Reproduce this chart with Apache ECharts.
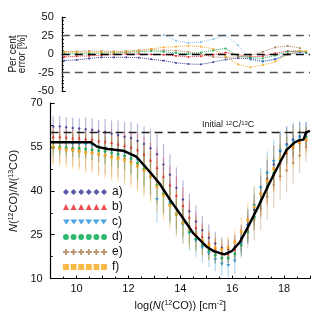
<!DOCTYPE html>
<html><head><meta charset="utf-8">
<script src="https://cdn.jsdelivr.net/npm/echarts@6/dist/echarts.min.js"></script>
<style>html,body{margin:0;padding:0;background:#fff}#c{width:316px;height:316px}</style>
</head><body><div id="c"></div><script>
// ---------- DATA ----------
const xGrid = [9.1,9.35,9.6,9.85,10.1,10.35,10.6,10.85,11.1,11.35,11.6,11.85,12.1,12.35,12.6,12.85,13.1,13.35,13.6,13.85,14.1,14.35,14.6,14.85,15.1,15.35,15.6,15.85,16.1,16.35,16.6,16.85,17.1,17.35,17.6,17.85,18.1,18.35,18.6,18.85];
const ratioA = [62,62,61.7,61.5,61.3,61,60.8,60.3,60,59.5,59,58.5,58,57,56,54.5,52.5,49,45.5,41,37,33,29.5,26.5,24,22,20.5,20,21,24,28.5,33.5,39,44,49,53.5,56,57.5,58.5,59.5];
const ratioB = [58.5,58.5,58.3,58,58,57.8,57.5,57,56.8,56.5,56,55.5,55,54,52.5,50.5,48,45,42,38.5,35,31,27.5,24.5,22,20,18.5,18.5,20,23,27,31.5,36.5,41,45.5,49.5,53,55,56.5,57.5];
const ratioC = [56.5,56.5,56.3,56,56,55.8,55.5,55,54.5,54,53.5,53,52,50.5,48.5,46,37,40,36,32,28.5,25.5,23,20.5,18.5,16.5,15,14.5,16,22,28,35,41,46,50,53.5,55.5,57,58.5,59.5];
const ratioD = [55,55,54.8,54.5,54.5,54.3,54,53.8,53.5,53,52.5,52,51,49.5,47.5,45,42,39,35.5,32,29,26,23.5,21.5,19.5,18,17,17,18.5,21.5,26,31,36.5,41.5,46,50.5,54,56,57.5,58.5];
const ratioE = [54.5,54.3,54,53.8,53.5,53.3,53,52.5,52,51.8,51.5,51,50,48.5,47,45,43,40,37,34,31,28,25.5,23,21,19.5,18.5,19,20.5,23,26.5,30,34,38,42,45,47,49.5,52,55];
const ratioF = [55,54.5,54,54,53.5,53,53,52.5,52,51.5,51,50.5,49.5,48.5,47,45,41.5,38.5,35,32,29,27,25,23,21.5,20.5,20,20.5,22.5,26,30,34.5,39,43.5,47.5,51,53.5,55,56.5,57.5];
const errA = [3.5,3.5,3.5,3.5,3.5,4,4,4,4.5,4.5,5,5,5.5,6,6,6.5,7,7,7,7,6.5,6,5.5,5,4.5,4,3.5,3.5,4,4.5,5,5.5,6,6.5,6.5,6.5,6,5.5,5,4];
const errB = [3,3,3,3,3.5,3.5,4,4,4,4.5,4.5,5,5,5.5,6,6,6.5,6.5,6.5,6.5,6,5.5,5,4.5,4,3.5,3,3,3.5,4,4.5,5,5.5,6,6,6,5.5,5,4.5,4];
const errC = [4,4,4,4,4.5,4.5,5,5,5.5,5.5,6,6,6.5,7,7,7.5,8,8,7.5,7,6.5,6,5.5,5,4.5,4,4,4,4.5,5,6,6.5,7,7.5,7.5,7,6.5,6,5,4];
const errD = [3,3,3,3,3,3.5,3.5,4,4,4.5,4.5,5,5,5.5,6,6,6,6,6,5.5,5,4.5,4,3.5,3,3,2.5,2.5,3,3.5,4,4.5,5,5.5,5.5,5.5,5,4.5,4,3.5];
const errE = [5,5,5,5.5,5.5,6,6,6.5,6.5,7,7,7.5,7.5,8,8,8,8,8,7.5,7,6.5,6,5.5,5,4.5,4,4,4,4.5,5,6,7,7.5,8,8,8,7.5,7,6,5];
const errF = [6,6,6,6.5,6.5,7,7,7.5,7.5,8,8,8.5,8.5,9,9,9,9,8.5,8,7.5,7,6.5,6,5.5,5,4.5,4,4,4.5,5,6,7,7.5,8,8,8,7.5,7,6,5];
const modelX = [9.0,10.55,10.8,11.2,11.8,12.3,12.77,13.2,13.6,14.0,14.5,15.0,15.3,15.7,16.0,16.3,16.6,17.0,17.4,17.8,18.1,18.4,18.6,18.75,18.85,19.0];
const modelY = [56.6,56.6,55,54.3,53.7,51.7,47,42.5,37,32,25.5,21,19.3,18.3,19.5,22.5,27.5,34.5,42,49,54,56.5,57.3,57.5,60,60.5];
const pctX = [9.1,9.6,10.1,10.6,11.1,11.6,12.1,12.6,13.1,13.6,14.1,14.6,15.1,15.6,16.1,16.6,17.1,17.6,18.1,18.6,18.85];
const pctA = [-9,-8,-6,-4.5,-4.5,-4.5,-5,-7,-9,-12,-13.5,-14,-11,-7.5,-5.5,-6.5,-10,-7,0,3,null];
const pctB = [-4,-3,-2.5,-1.5,-0.5,0,0,-0.5,-1,-2.5,-4,-3,-1,2,-1,-4,-3,1,4,4,2];
const pctC = [null,null,null,null,null,null,null,null,26,18,15,16,20,25,12,-8,-10,-7,-1,2,1];
const pctD = [0,0.5,1,1,1.5,2,3,4,3,1.5,0,2,5,7.5,-3,-5,-6,-2,3,4,2];
const pctE = [3,3.5,4,4,3.5,4,5,6,5,4.5,3,0,-4,-4.5,-4,-2,3,9,11,8,null];
const pctF = [2.5,2.5,2.5,2.5,2.5,3,4,7,9,10,11,10,7,-3,-14,-18,-15,-10,-1,4,4];
const topLevels = [25, -25];
const zeroLevel = [0];
const initialRatio = [60];
const names = ['a)','b)','c)','d)','e)','f)'];
// ---------- STYLE ----------
const colors = ['#2e3192','#ed1c24','#1f8fd8','#00a651','#a97c50','#f9a61a'];
const ratios = [ratioA,ratioB,ratioC,ratioD,ratioE,ratioF];
const errs = [errA,errB,errC,errD,errE,errF];
const pcts = [pctA,pctB,pctC,pctD,pctE,pctF];
const FONT = 'Liberation Sans';

function shape(kind, cx){
  switch(kind){
    case 'diamond': return `M${cx},0L${cx+3},3L${cx},6L${cx-3},3Z`;
    case 'tri': return `M${cx},0L${cx+3},6L${cx-3},6Z`;
    case 'inv': return `M${cx-3.5},1L${cx+3.5},1L${cx},6Z`;
    case 'circ': return `M${cx-3},3A3,3 0 1,0 ${cx+3},3A3,3 0 1,0 ${cx-3},3Z`;
    case 'plus': return `M${cx-1},0h2v2h2v2h-2v2h-2v-2h-2v-2h2Z`;
    case 'sq': return `M${cx-3},0h6v6h-6Z`;
  }
}
const kinds = ['diamond','tri','inv','circ','plus','sq'];
function row(kind){ let p=''; for(let i=0;i<6;i++) p += shape(kind, 3 + i*7.7); return 'path://' + p; }
const single = {
  diamond:'diamond', tri:'triangle', inv:'path://M0,0L7,0L3.5,5Z', circ:'circle',
  plus:'path://M2,0h2v2h2v2h-2v2h-2v-2h-2v-2h2Z', sq:'rect'
};

const series = [];
// error bars
ratios.forEach((r,k)=>{
  series.push({
    type:'custom', xAxisIndex:1, yAxisIndex:1, silent:true, z:2,
    data: xGrid.map((x,i)=>[x, r[i], errs[k][i]]),
    renderItem:(params, api)=>{
      const x=api.value(0), y=api.value(1), e=api.value(2);
      const p1=api.coord([x,y-e]), p2=api.coord([x,y+e]);
      return {type:'line', shape:{x1:p1[0],y1:p1[1],x2:p2[0],y2:p2[1]},
        style:{stroke:colors[k], lineWidth:1.2, opacity:0.35}};
    }
  });
});
// points
ratios.forEach((r,k)=>{
  series.push({
    name:names[k], type:'scatter', xAxisIndex:1, yAxisIndex:1, z:3,
    symbol: single[kinds[k]], symbolSize: k===2?[4,3]:3,
    itemStyle:{color:colors[k]},
    data: xGrid.map((x,i)=>[x, r[i]])
  });
});
// model line
series.push({
  type:'line', xAxisIndex:1, yAxisIndex:1, z:5, showSymbol:false, silent:true,
  lineStyle:{color:'#000', width:2.4},
  data: modelX.map((x,i)=>[x, modelY[i]]),
  markLine:{silent:true, symbol:'none', label:{show:false},
    lineStyle:{color:'#222', type:[8,5], width:1.3},
    data: initialRatio.map(v=>({yAxis:v}))}
});
// per cent error lines
pcts.forEach((p,k)=>{
  const s = {
    type:'line', xAxisIndex:0, yAxisIndex:0, z:3, silent:true,
    symbol:'rect', symbolSize:1.8, showSymbol:true,
    itemStyle:{color:colors[k], opacity: k===2?0.5:0.9},
    lineStyle:{color:colors[k], width:1, type:'dotted', opacity: k===2?0.5:0.9},
    data: pctX.map((x,i)=>[x, p[i]])
  };
  if(k===0){
    s.markLine = {silent:true, symbol:'none', label:{show:false},
      data: topLevels.map(v=>({yAxis:v, lineStyle:{color:'#555', type:[8,5], width:1.3}}))
        .concat(zeroLevel.map(v=>({yAxis:v, lineStyle:{color:'#000', type:[8,5], width:1.3}})))};
  }
  series.push(s);
});

const axisCommon = {
  axisLine:{show:true, lineStyle:{color:'#000', width:1.2}},
  axisTick:{show:true, inside:true, length:4, lineStyle:{color:'#000', width:1}},
  minorTick:{show:true, length:2, lineStyle:{color:'#000', width:1}},
  splitLine:{show:false},
  axisLabel:{color:'#111', fontFamily:FONT, fontSize:11}
};

const option = {
  animation:false,
  backgroundColor:'#fff',
  grid:[
    {left:37, right:6, top:17, height:74},
    {left:37, right:6, top:103, height:180}
  ],
  xAxis:[
    {gridIndex:0, type:'value', min:9, max:19, show:false},
    Object.assign({}, axisCommon, {gridIndex:1, type:'value', min:9, max:19, interval:1,
      axisTick:{show:true, inside:true, length:3, lineStyle:{color:'#000'}},
      minorTick:{show:true, splitNumber:2, length:2, lineStyle:{color:'#000'}},
      axisLabel:{color:'#111', fontFamily:FONT, fontSize:11, margin:5,
        formatter:v=> (Math.round(v)%2===0 ? String(v) : '')},
      name:'log({i|N}({s|12}CO)) [cm{s|-2}]', nameLocation:'middle', nameGap:16,
      nameTextStyle:{color:'#111', fontFamily:FONT, fontSize:11,
        rich:{i:{fontStyle:'italic', fontFamily:FONT, fontSize:11, color:'#111'},
              s:{fontSize:7, verticalAlign:'top', padding:[0,0,5,0], fontFamily:FONT, color:'#111'}}}
    })
  ],
  yAxis:[
    Object.assign({}, axisCommon, {gridIndex:0, type:'value', min:-50, max:50, interval:25,
      minorTick:{show:true, splitNumber:5, length:2, lineStyle:{color:'#000'}},
      name:'Per cent\nerror [%]', nameLocation:'middle', nameGap:16,
      nameTextStyle:{color:'#111', fontFamily:FONT, fontSize:10, lineHeight:9}
    }),
    Object.assign({}, axisCommon, {gridIndex:1, type:'value', min:10, max:70, interval:15,
      minorTick:{show:true, splitNumber:2, length:2, lineStyle:{color:'#000'}},
      name:'{i|N}({s|12}CO)/{i|N}({s|13}CO)', nameLocation:'middle', nameGap:20,
      nameTextStyle:{color:'#111', fontFamily:FONT, fontSize:11,
        rich:{i:{fontStyle:'italic', fontFamily:FONT, fontSize:11, color:'#111'},
              s:{fontSize:7, verticalAlign:'top', padding:[0,0,5,0], fontFamily:FONT, color:'#111'}}}
    })
  ],
  legend:{
    orient:'vertical', left:58, top:180, itemGap:1, itemWidth:44, itemHeight:6, itemTextGap:8,
    selectedMode:false,
    textStyle:{fontFamily:FONT, fontSize:12, color:'#111', lineHeight:14},
    data: names.map((n,k)=>({name:n, icon:row(kinds[k]), itemStyle:{color:colors[k]}}))
  },
  graphic:[{type:'text', left:202, top:120, silent:true,
    style:{text:'Initial {s|12}C/{s|13}C', font:'9px Liberation Sans', fill:'#222',
      rich:{s:{fontSize:6, verticalAlign:'top', padding:[0,0,4,0], fill:'#222'}}}}],
  series
};
const chart = echarts.init(document.getElementById('c'), null, {renderer:'canvas'});
chart.setOption(option);
</script></body></html>
